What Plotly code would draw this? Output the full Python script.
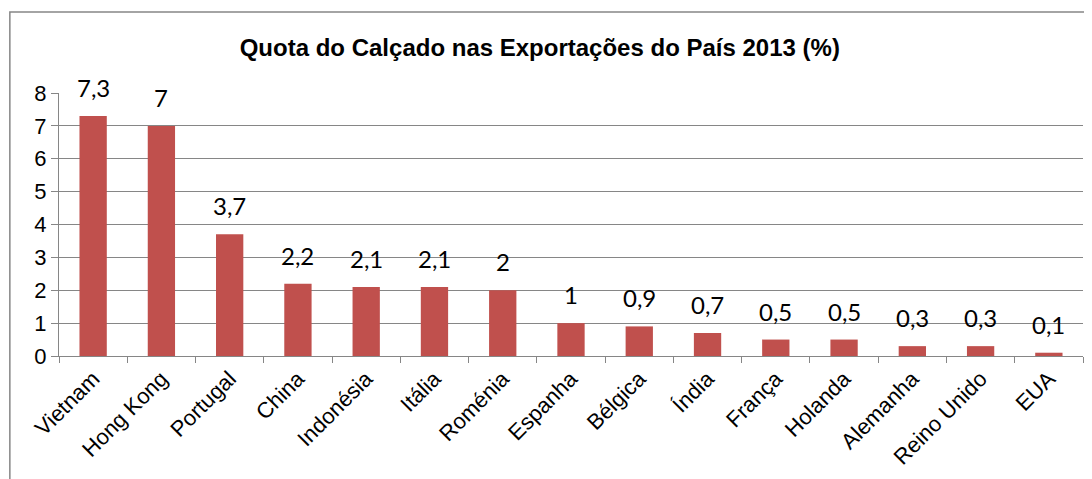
import plotly.graph_objects as go

paises = ["Vietnam", "Hong Kong", "Portugal", "China", "Indonésia", "Itália", "Roménia",
          "Espanha", "Bélgica", "Índia", "França", "Holanda", "Alemanha", "Reino Unido", "EUA"]
quota = [7.3, 7, 3.7, 2.2, 2.1, 2.1, 2, 1, 0.9, 0.7, 0.5, 0.5, 0.3, 0.3, 0.1]

bar_color = "#C0504D"
grid_color = "#868686"

fig = go.Figure(go.Bar(x=paises, y=quota, marker_color=bar_color, marker_line_width=0))

# rótulos de dados (vírgula decimal, como no Excel)
for p, v in zip(paises, quota):
    fig.add_annotation(x=p, y=v, text=f"{v:g}".replace(".", ","), showarrow=False,
                       yanchor="bottom", yshift=12,
                       font=dict(family="Lato, Carlito, sans-serif", size=24, color="#000"))

fig.update_layout(
    width=1092, height=479,
    margin=dict(l=51, r=17, t=85, b=131),
    paper_bgcolor="white", plot_bgcolor="white",
    bargap=0.6, showlegend=False,
    title=dict(text="<b>Quota do Calçado nas Exportações do País 2013 (%)</b>",
               x=0.487, xanchor="center", y=0.918, yanchor="middle",
               font=dict(family="Liberation Sans, Arial", size=24, color="#000")),
    font=dict(family="Liberation Sans, Arial", size=22, color="#000"),
)
fig.update_yaxes(range=[0, 8], dtick=1, showgrid=True, gridcolor=grid_color, gridwidth=1.3,
                 showline=True, linecolor=grid_color, linewidth=1.3, ticks="outside", ticklen=7,
                 tickcolor=grid_color, tickwidth=1.3, zeroline=False, fixedrange=True,
                 tickfont=dict(size=22))
fig.update_xaxes(tickangle=-45, showline=True, linecolor=grid_color, linewidth=1.3,
                 ticks="outside", tickson="boundaries", ticklen=6, tickcolor=grid_color,
                 tickwidth=1.3, showgrid=False, tickfont=dict(size=22))

# moldura do gráfico
fig.add_shape(type="rect", xref="paper", yref="paper", x0=-0.048, x1=1.2, y0=-0.7, y1=1.308,
              line=dict(color=grid_color, width=1.5), fillcolor="rgba(0,0,0,0)", layer="below")

fig.write_html("out.html")
